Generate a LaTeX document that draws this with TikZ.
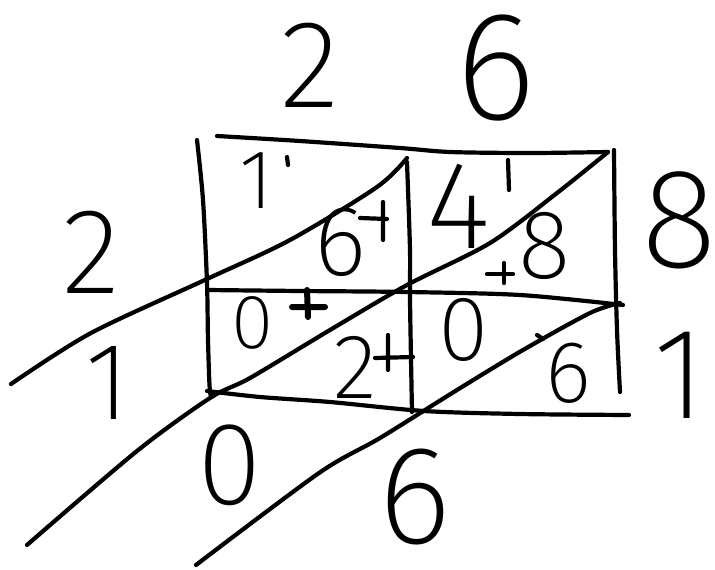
\documentclass[tikz,border=0pt]{standalone}
\usepackage{fontspec}
\newfontfamily\handfont{Fira Sans}[UprightFont={* ExtraLight}]
\usetikzlibrary{positioning}
\tikzset{
  pen/.style={line width=4.2pt, line cap=round, line join=round},
  digit/.style={font=\handfont\fontsize{#1}{#1}\selectfont, inner sep=0pt},
}

\begin{document}
\begin{tikzpicture}[x=1pt, y=-1pt]
\useasboundingbox (0,0) rectangle (715,570);
%
    % grid
    \draw[pen] plot[smooth] coordinates {(217,136) (300,141) (400,148) (450,152) (530,153) (608,152)};
    \draw[pen] plot[smooth] coordinates {(197,140) (203,200) (207,283) (208,340) (210,392) (214,395)};
    \draw[pen] plot[smooth] coordinates {(407,162) (410,250) (410,300) (412,412)};
    \draw[pen] plot[smooth] coordinates {(614,150) (615,250) (617,330) (620,392)};
    \draw[pen] plot[smooth] coordinates {(207,290) (300,291) (407,292) (520,295) (623,305)};
    \draw[pen] plot[smooth] coordinates {(207,391) (260,397) (330,402) (424,411) (520,414) (629,415)};
%
    % diagonals
    \draw[pen] plot[smooth] coordinates {(407,158) (377,187) (290,240) (207,279) (91,333) (11,384)};
    \draw[pen] plot[smooth] coordinates {(608,152) (557,193) (490,243) (407,285) (330,330)
      (250,378) (210,398) (137,451) (27,545)};
    \draw[pen] plot[smooth] coordinates {(620,303) (590,313) (523,350) (457,390) (380,438)
      (319,473) (196,565)};
%
    % factors
    \node[digit=125] (tTwo) at (310,65) {2};
    \node[digit=155] (tSix) at (496,68) {6};
    \node[digit=142] (rEight) at (679,220) {8};
    \node[digit=130] (rOne) at (680,375) {1};
    % product digits
    \node[digit=84]  (cOne)  at (257,181) {1};
    \node[digit=100] (cSix)  at (340,242) {6};
    \node[digit=125] (cFour) at (459,206) {4};
    \node[digit=98]  (cEight) at (545,246) {8};
    \node[digit=77]  (cZero) at (253,323) {0};
    \node[digit=92]  (cTwo)  at (355,367) {2};
    \node[digit=92]  (cZerob) at (464,330) {0};
    \node[digit=88]  (cSixb) at (568,373) {6};
    % carry marks
    \draw[pen] (360,218) -- (387,219) (383,202) -- (383,240);
    \draw[pen] (487,274) -- (513,274) (504,263) -- (504,283);
    \draw[pen, line width=6pt] (292,307) -- (325,307) (307,290) -- (308,317);
    \draw[pen] (375,358) -- (413,357) (388,335) -- (388,370);
    \draw[pen] (287,157) -- (288,165);
    \draw[pen] (508,160) -- (509,190);
    \draw[pen] (537,335) -- (543,339);
%
    % answer
    \node[digit=122] (lTwo) at (91,252) {2};
    \node[digit=110] (lOne) at (108,383) {1};
    \node[digit=118] (bZero) at (230,465) {0};
    \node[digit=140] (bSix) at (415,497) {6};
\end{tikzpicture}
\end{document}
